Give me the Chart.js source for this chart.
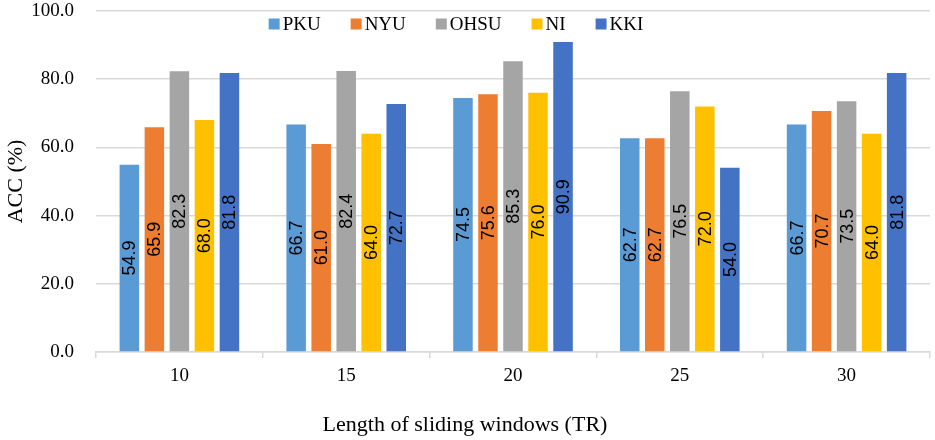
<!DOCTYPE html>
<html>
<head>
<meta charset="utf-8">
<script src="https://cdn.jsdelivr.net/npm/chart.js@4.4.1/dist/chart.umd.min.js"></script>
<style>
  html, body { margin: 0; padding: 0; background: #fff; }
  #wrap { width: 935px; height: 440px; }
</style>
</head>
<body>
<div id="wrap"><canvas id="barChart" width="935" height="440"></canvas></div>
<script>
// Datos
const ventanas = ["10", "15", "20", "25", "30"];
const pku  = [54.9, 66.7, 74.5, 62.7, 66.7];
const nyu  = [65.9, 61.0, 75.6, 62.7, 70.7];
const ohsu = [82.3, 82.4, 85.3, 76.5, 73.5];
const ni   = [68.0, 64.0, 76.0, 72.0, 64.0];
const kki  = [81.8, 72.7, 90.9, 54.0, 81.8];

const serif = "'Liberation Serif', 'Times New Roman', serif";

// etiquetas verticales centradas en cada barra
const etiquetasBarras = {
  id: "etiquetasBarras",
  afterDatasetsDraw(chart) {
    const ctx = chart.ctx;
    ctx.save();
    ctx.font = "18px 'Liberation Sans', Arial, sans-serif";
    ctx.fillStyle = "#000";
    ctx.textAlign = "center";
    ctx.textBaseline = "middle";
    chart.data.datasets.forEach((ds, i) => {
      chart.getDatasetMeta(i).data.forEach((bar, j) => {
        const cy = (bar.y + bar.base) / 2;
        ctx.save();
        ctx.translate(bar.x, cy);
        ctx.rotate(-Math.PI / 2);
        ctx.fillText(ds.data[j].toFixed(1), 0, 1);
        ctx.restore();
      });
    });
    ctx.restore();
  }
};

// leyenda dentro del area del grafico
const leyenda = {
  id: "leyenda",
  afterDraw(chart) {
    const ctx = chart.ctx;
    const caja = 11, sep = 3, hueco = 30, cy = 24, centro = 456;
    ctx.save();
    ctx.font = "19px " + serif;
    ctx.textBaseline = "middle";
    const items = chart.data.datasets.map((ds) => ({
      texto: ds.label,
      color: ds.backgroundColor,
      w: caja + sep + ctx.measureText(ds.label).width
    }));
    const total = items.reduce((s, it) => s + it.w, 0) + hueco * (items.length - 1);
    let x = centro - total / 2;
    items.forEach((it) => {
      ctx.fillStyle = it.color;
      ctx.fillRect(x, cy - caja / 2, caja, caja);
      ctx.fillStyle = "#000";
      ctx.fillText(it.texto, x + caja + sep, cy + 1);
      x += it.w + hueco;
    });
    ctx.restore();
  }
};

const serie = (label, data, color) => ({
  label,
  data,
  backgroundColor: color,
  borderColor: color,
  borderWidth: 0,
  categoryPercentage: 0.75,
  barPercentage: 0.78
});

new Chart(document.getElementById("barChart").getContext("2d"), {
  type: "bar",
  data: {
    labels: ventanas,
    datasets: [
      serie("PKU", pku, "#5B9BD5"),
      serie("NYU", nyu, "#ED7D31"),
      serie("OHSU", ohsu, "#A5A5A5"),
      serie("NI", ni, "#FFC000"),
      serie("KKI", kki, "#4472C4")
    ]
  },
  options: {
    responsive: false,
    animation: false,
    devicePixelRatio: 1,
    layout: { padding: { top: 11, right: 5, bottom: 0, left: 0 } },
    plugins: {
      legend: { display: false },
      tooltip: { enabled: false },
      // titulo del eje x centrado en toda la figura, como en el original
      title: {
        display: true,
        position: "bottom",
        text: "Length of sliding windows (TR)",
        color: "#000",
        padding: { top: 0, bottom: 2 },
        font: { family: serif, size: 22, weight: "normal" }
      }
    },
    scales: {
      x: {
        afterFit: (s) => { s.height = 59.6; s.paddingLeft = 0; s.paddingRight = 0; },
        grid: {
          offset: true,
          drawOnChartArea: false,
          drawTicks: true,
          tickLength: 6,
          color: "#D9D9D9",
          lineWidth: 1.5
        },
        border: { display: true, color: "#D9D9D9", width: 1.5 },
        ticks: { color: "#000", padding: 7, font: { family: serif, size: 19 } }
      },
      y: {
        min: 0,
        max: 100,
        afterFit: (s) => { s.width = 96; s.paddingTop = 0; s.paddingBottom = 0; },
        grid: { drawTicks: false, color: "#D9D9D9", lineWidth: 1.5 },
        border: { display: false },
        ticks: {
          stepSize: 20,
          color: "#000",
          padding: 22,
          font: { family: serif, size: 19 },
          callback: (v) => v.toFixed(1)
        },
        title: {
          display: true,
          text: "ACC (%)",
          color: "#000",
          padding: { top: 3, bottom: 0 },
          font: { family: serif, size: 22 }
        }
      }
    }
  },
  plugins: [etiquetasBarras, leyenda]
});
</script>
</body>
</html>
